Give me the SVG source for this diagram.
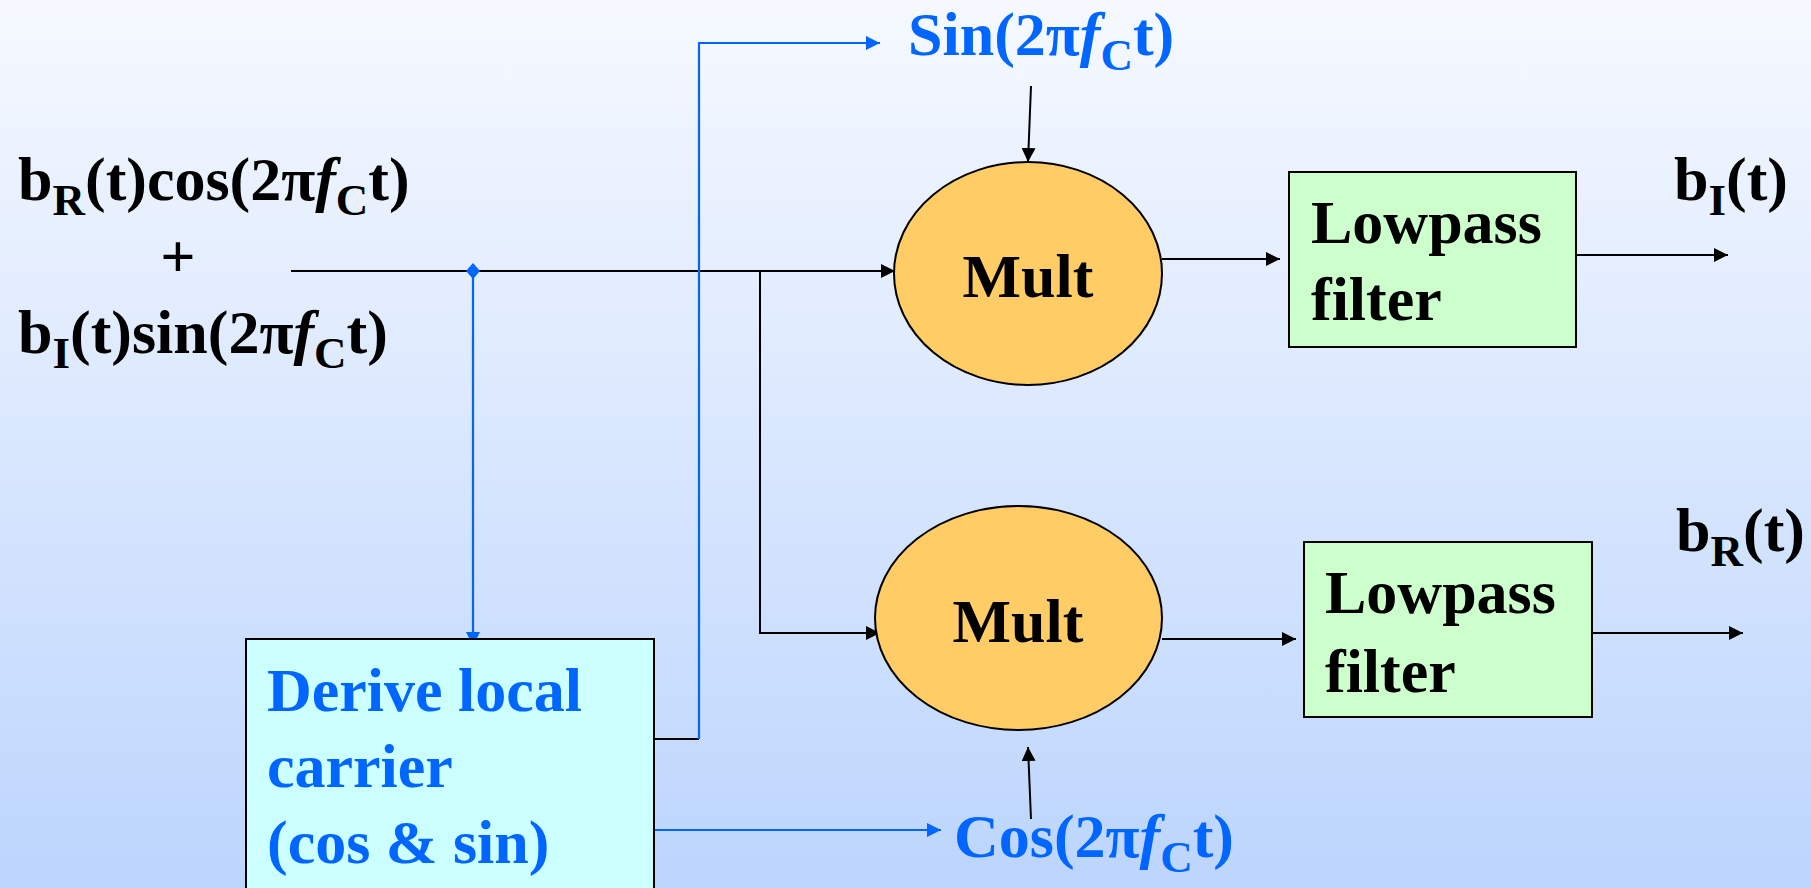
<svg xmlns="http://www.w3.org/2000/svg" width="1811" height="888" viewBox="0 0 1811 888">
<defs>
<linearGradient id="bg" x1="0" y1="0" x2="0" y2="1">
<stop offset="0" stop-color="#F6F9FF"/>
<stop offset="1" stop-color="#BCD5FD"/>
</linearGradient>
<marker id="ak" viewBox="0 0 10 10" refX="10" refY="5" markerWidth="14" markerHeight="14" markerUnits="userSpaceOnUse" orient="auto">
<path d="M0,0 L10,5 L0,10 Z" fill="#000"/>
</marker>
<marker id="ab" viewBox="0 0 10 10" refX="10" refY="5" markerWidth="14" markerHeight="14" markerUnits="userSpaceOnUse" orient="auto">
<path d="M0,0 L10,5 L0,10 Z" fill="#0066FF"/>
</marker>
</defs>
<style>
text{font-family:"Liberation Serif","Times New Roman",serif;font-weight:bold;font-size:62px;fill:#000}
.blue{fill:#0066FF}
.sub{font-size:45px}
.it{font-style:italic}
.k{stroke:#000;stroke-width:2;fill:none}
.b{stroke:#0066FF;stroke-width:2.2;fill:none}
.node{stroke:#000;stroke-width:2}
</style>
<rect x="0" y="0" width="1811" height="888" fill="url(#bg)"/>

<g id="connectors">
<line class="k" x1="291" y1="271" x2="895" y2="271" marker-end="url(#ak)"/>
<polyline class="k" points="760,271 760,633 880,633" marker-end="url(#ak)"/>
<line class="b" x1="473" y1="271" x2="473" y2="646" marker-end="url(#ab)"/>
<path d="M473,263 L480,271 L473,279 L466,271 Z" fill="#0066FF"/>
<line class="k" x1="654" y1="739" x2="699" y2="739"/>
<polyline class="b" points="699,739 699,43 880,43" marker-end="url(#ab)"/>
<line class="b" x1="654" y1="830" x2="941" y2="830" marker-end="url(#ab)"/>
<line class="k" x1="1031" y1="86" x2="1028" y2="162" marker-end="url(#ak)"/>
<line class="k" x1="1031" y1="819" x2="1028" y2="747" marker-end="url(#ak)"/>
<line class="k" x1="1162" y1="259" x2="1280" y2="259" marker-end="url(#ak)"/>
<line class="k" x1="1576" y1="255" x2="1728" y2="255" marker-end="url(#ak)"/>
<line class="k" x1="1162" y1="639" x2="1296" y2="639" marker-end="url(#ak)"/>
<line class="k" x1="1592" y1="633" x2="1743" y2="633" marker-end="url(#ak)"/>
</g>

<g id="input">
<text x="18" y="200">b<tspan class="sub" dy="15">R</tspan><tspan dy="-15">(t)cos(2π</tspan><tspan class="it">f</tspan><tspan class="sub" dy="15">C</tspan><tspan dy="-15">t)</tspan></text>
<text x="178" y="277" text-anchor="middle">+</text>
<text x="18" y="353">b<tspan class="sub" dy="15">I</tspan><tspan dy="-15">(t)sin(2π</tspan><tspan class="it">f</tspan><tspan class="sub" dy="15">C</tspan><tspan dy="-15">t)</tspan></text>
</g>

<g id="derive">
<rect class="node" x="246" y="639" width="408" height="270" fill="#CCFFFF"/>
<text class="blue" x="267" y="711">Derive local</text>
<text class="blue" x="267" y="787">carrier</text>
<text class="blue" x="267" y="863">(cos &amp; sin)</text>
</g>

<g id="sin-label">
<text class="blue" x="908" y="55">Sin(2π<tspan class="it">f</tspan><tspan class="sub" dy="15">C</tspan><tspan dy="-15">t)</tspan></text>
</g>

<g id="cos-label">
<text class="blue" x="954" y="857">Cos(2π<tspan class="it">f</tspan><tspan class="sub" dy="15">C</tspan><tspan dy="-15">t)</tspan></text>
</g>

<g id="mult1">
<ellipse class="node" cx="1028" cy="273.5" rx="134" ry="111.5" fill="#FFCC66"/>
<text x="1028" y="297" text-anchor="middle">Mult</text>
</g>

<g id="mult2">
<ellipse class="node" cx="1018.5" cy="618" rx="143.5" ry="112" fill="#FFCC66"/>
<text x="1018" y="642" text-anchor="middle">Mult</text>
</g>

<g id="lpf1">
<rect class="node" x="1289" y="172" width="287" height="175" fill="#CCFFCC"/>
<text x="1311" y="243">Lowpass</text>
<text x="1311" y="320">filter</text>
</g>

<g id="lpf2">
<rect class="node" x="1304" y="542" width="288" height="175" fill="#CCFFCC"/>
<text x="1325" y="613">Lowpass</text>
<text x="1325" y="692">filter</text>
</g>

<g id="out-i">
<text x="1674" y="200">b<tspan class="sub" dy="15">I</tspan><tspan dy="-15">(t)</tspan></text>
</g>

<g id="out-r">
<text x="1676" y="551">b<tspan class="sub" dy="15">R</tspan><tspan dy="-15">(t)</tspan></text>
</g>
</svg>
